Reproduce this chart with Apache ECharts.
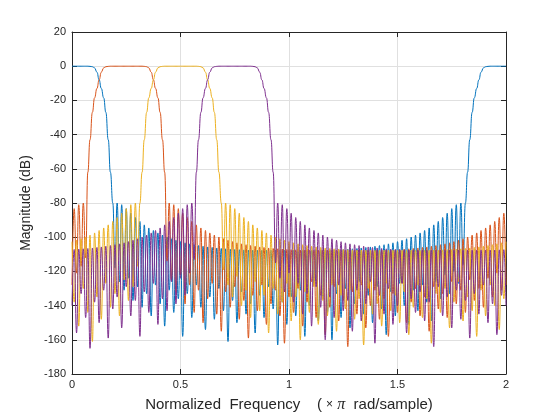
<!DOCTYPE html>
<html><head><meta charset="utf-8">
<script src="https://cdn.jsdelivr.net/npm/echarts@6/dist/echarts.min.js"></script>
<style>html,body{margin:0;padding:0;background:#fff}#c{width:560px;height:420px}</style>
</head><body><div id="c"></div>
<script>
const freq = [0,0.010,0.021,0.031,0.042,0.052,0.063,0.073,0.083,0.094,
0.104,0.115,0.125,0.135,0.146,0.156,0.167,0.177,0.188,0.198,
0.208,0.219,0.229,0.240,0.250,0.260,0.271,0.281,0.292,0.302,
0.313,0.323,0.333,0.344,0.354,0.365,0.375,0.385,0.396,0.406,
0.417,0.427,0.438,0.448,0.458,0.469,0.479,0.490,0.500,0.510,
0.521,0.531,0.542,0.552,0.563,0.573,0.583,0.594,0.604,0.615,
0.625,0.635,0.646,0.656,0.667,0.677,0.688,0.698,0.708,0.719,
0.729,0.740,0.750,0.760,0.771,0.781,0.792,0.802,0.813,0.823,
0.833,0.844,0.854,0.865,0.875,0.885,0.896,0.906,0.917,0.927,
0.938,0.948,0.958,0.969,0.979,0.990,1.000,1.010,1.021,1.031,
1.042,1.052,1.063,1.073,1.083,1.094,1.104,1.115,1.125,1.135,
1.146,1.156,1.167,1.177,1.188,1.198,1.208,1.219,1.229,1.240,
1.250,1.260,1.271,1.281,1.292,1.302,1.313,1.323,1.333,1.344,
1.354,1.365,1.375,1.385,1.396,1.406,1.417,1.427,1.438,1.448,
1.458,1.469,1.479,1.490,1.500,1.510,1.521,1.531,1.542,1.552,
1.563,1.573,1.583,1.594,1.604,1.615,1.625,1.635,1.646,1.656,
1.667,1.677,1.688,1.698,1.708,1.719,1.729,1.740,1.750,1.760,
1.771,1.781,1.792,1.802,1.813,1.823,1.833,1.844,1.854,1.865,
1.875,1.885,1.896,1.906,1.917,1.927,1.938,1.948,1.958,1.969,
1.979,1.990,2.000];

const magBlue = [0,0,0,0,0,0,0,0,-0.1,-0.3,
-1,-3.5,-8,-13,-18.5,-27,-43,-62,-80,-118,
-80,-126,-81,-131,-83.3,-124,-86,-137,-88.5,-129,
-90.8,-141,-92.8,-133,-94.6,-146,-96.1,-128,-97.5,-139,
-98.8,-152,-99.9,-131,-100.9,-144,-101.8,-136,-102.6,-158,
-103.3,-133,-103.9,-147,-104.4,-128,-104.9,-141,-105.3,-154,
-105.7,-135,-106,-148,-106.3,-130,-106.6,-143,-106.8,-161,
-107,-137,-107.2,-150,-107.3,-132,-107.4,-145,-107.5,-139,
-107.5,-156,-107.6,-134,-107.6,-147,-107.6,-129,-107.6,-142,
-107.6,-163,-107.6,-138,-107.6,-151,-107.6,-135,-107.6,-146,
-107.6,-131,-107.6,-158,-107.6,-140,-107.6,-127,-107.6,-149,
-107.6,-136,-107.5,-144,-107.5,-160,-107.4,-133,-107.3,-147,
-107.2,-130,-107,-153,-106.8,-139,-106.6,-126,-106.3,-145,
-106,-134,-105.7,-150,-105.3,-129,-104.9,-142,-104.4,-157,
-103.9,-132,-103.3,-146,-102.6,-127,-101.8,-140,-100.9,-151,
-99.9,-131,-98.8,-143,-97.5,-128,-96.1,-138,-94.6,-149,
-92.8,-126,-90.8,-136,-88.5,-122,-86,-133,-83.3,-120,
-81,-127,-80,-116,-80,-62,-43,-27,-18.5,-13,
-8,-3.5,-1,-0.3,-0.1,0,0,0,0,0,
0,0,0];

const magOrange = [-128,-83.3,-121,-81,-117,-80,-112,-62,-43,-27,
-18.5,-13,-8,-3.5,-1,-0.3,-0.1,0,0,0,
0,0,0,0,0,0,0,0,0,0,
0,0,-0.1,-0.3,-1,-3.5,-8,-13,-18.5,-27,
-43,-62,-114,-80,-125,-81,-133,-83.3,-122,-86,
-139,-88.5,-128,-90.8,-144,-92.8,-131,-94.6,-150,-96.1,
-136,-97.5,-127,-98.8,-145,-99.9,-155,-100.9,-132,-101.8,
-141,-102.6,-129,-103.3,-148,-103.9,-137,-104.4,-159,-104.9,
-134,-105.3,-143,-105.7,-128,-106,-151,-106.3,-139,-106.6,
-131,-106.8,-146,-107,-162,-107.2,-135,-107.3,-144,-107.4,
-130,-107.5,-152,-107.5,-138,-107.6,-126,-107.6,-147,-107.6,
-134,-107.6,-157,-107.6,-141,-107.6,-129,-107.6,-149,-107.6,
-137,-107.6,-164,-107.6,-132,-107.6,-145,-107.6,-128,-107.6,
-153,-107.6,-140,-107.6,-131,-107.6,-148,-107.5,-136,-107.5,
-158,-107.4,-133,-107.3,-144,-107.2,-127,-107,-150,-106.8,
-138,-106.6,-130,-106.3,-146,-106,-135,-105.7,-155,-105.3,
-129,-104.9,-142,-104.4,-133,-103.9,-147,-103.3,-126,-102.6,
-139,-101.8,-131,-100.9,-144,-99.9,-125,-98.8,-137,-97.5,
-130,-96.1,-141,-94.6,-124,-92.8,-135,-90.8,-121,-88.5,
-131,-86,-128];

const magYellow = [-102.6,-138,-101.8,-152,-100.9,-130,-99.9,-144,-98.8,-161,
-97.5,-135,-96.1,-148,-94.6,-127,-92.8,-141,-90.8,-133,
-88.5,-146,-86,-125,-83.3,-137,-81,-129,-80,-117,
-80,-62,-43,-27,-18.5,-13,-8,-3.5,-1,-0.3,
-0.1,0,0,0,0,0,0,0,0,0,
0,0,0,0,0,0,-0.1,-0.3,-1,-3.5,
-8,-13,-18.5,-27,-43,-62,-80,-119,-80,-128,
-81,-135,-83.3,-123,-86,-140,-88.5,-131,-90.8,-147,
-92.8,-126,-94.6,-143,-96.1,-134,-97.5,-156,-98.8,-130,
-99.9,-145,-100.9,-138,-101.8,-127,-102.6,-149,-103.3,-135,
-103.9,-160,-104.4,-132,-104.9,-144,-105.3,-129,-105.7,-151,
-106,-137,-106.3,-146,-106.6,-128,-106.8,-155,-107,-134,
-107.2,-142,-107.3,-131,-107.4,-148,-107.5,-136,-107.5,-163,
-107.6,-130,-107.6,-145,-107.6,-139,-107.6,-152,-107.6,-127,
-107.6,-143,-107.6,-134,-107.6,-150,-107.6,-132,-107.6,-157,
-107.6,-141,-107.6,-128,-107.6,-147,-107.6,-136,-107.6,-162,
-107.5,-133,-107.5,-144,-107.4,-130,-107.3,-153,-107.2,-138,
-107,-126,-106.8,-149,-106.6,-135,-106.3,-143,-106,-158,
-105.7,-131,-105.3,-146,-104.9,-128,-104.4,-140,-103.9,-154,
-103.3,-136,-102.6];

const magPurple = [-140,-107.2,-156,-107,-133,-106.8,-147,-106.6,-165,-106.3,
-138,-106,-150,-105.7,-131,-105.3,-159,-104.9,-142,-104.4,
-135,-103.9,-153,-103.3,-129,-102.6,-146,-101.8,-137,-100.9,
-158,-99.9,-132,-98.8,-144,-97.5,-127,-96.1,-151,-94.6,
-136,-92.8,-143,-90.8,-126,-88.5,-139,-86,-124,-83.3,
-134,-81,-121,-80,-113,-62,-43,-27,-18.5,-13,
-8,-3.5,-1,-0.3,-0.1,0,0,0,0,0,
0,0,0,0,0,0,0,0,0,0,
-0.1,-0.3,-1,-3.5,-8,-13,-18.5,-27,-43,-62,
-115,-80,-124,-81,-132,-83.3,-121,-86,-138,-88.5,
-127,-90.8,-145,-92.8,-133,-94.6,-152,-96.1,-129,-97.5,
-141,-98.8,-160,-99.9,-135,-100.9,-147,-101.8,-128,-102.6,
-143,-103.3,-137,-103.9,-155,-104.4,-131,-104.9,-149,-105.3,
-139,-105.7,-126,-106,-162,-106.3,-134,-106.6,-145,-106.8,
-130,-107,-151,-107.2,-140,-107.3,-127,-107.4,-156,-107.5,
-136,-107.5,-144,-107.6,-132,-107.6,-149,-107.6,-138,-107.6,
-164,-107.6,-129,-107.6,-146,-107.6,-135,-107.6,-153,-107.6,
-131,-107.6,-148,-107.6,-137,-107.6,-159,-107.6,-133,-107.6,
-145,-107.6,-128,-107.6,-150,-107.5,-139,-107.5,-157,-107.4,
-134,-107.3,-140];

const xTicks = [0, 0.5, 1, 1.5, 2];
const yTicks = [-180, -160, -140, -120, -100, -80, -60, -40, -20, 0, 20];
const colors = ['#0072BD', '#D95319', '#EDB120', '#7E2F8E'];
const seriesList = [magBlue, magOrange, magYellow, magPurple];

const axisCol = '#262626';
const chart = echarts.init(document.getElementById('c'), null, {renderer: 'canvas'});
function pairs(arr) { return freq.map((f, i) => [f, arr[i]]); }

chart.setOption({
  animation: false,
  backgroundColor: '#ffffff',
  grid: {left: 72, right: 54, top: 32, bottom: 46, containLabel: false},
  xAxis: [{
    type: 'value', min: xTicks[0], max: xTicks[xTicks.length - 1], interval: 0.5,
    position: 'bottom',
    name: '{a|Normalized  Frequency    ( }{x|×}{a| }{p|π}{a|  rad/sample)}',
    nameLocation: 'middle', nameGap: 23,
    nameTextStyle: {rich: {a: {fontFamily: 'Liberation Sans, Arial', fontSize: 15, color: axisCol},
                           x: {fontFamily: 'Liberation Sans, Arial', fontSize: 12, color: axisCol},
                           p: {fontFamily: 'Liberation Serif, Times New Roman', fontStyle: 'italic', fontSize: 16, color: axisCol}}},
    axisLine: {show: true, onZero: false, lineStyle: {color: axisCol, width: 1}},
    axisTick: {show: true, inside: true, length: 5, lineStyle: {color: axisCol}},
    axisLabel: {color: axisCol, fontFamily: 'Liberation Sans, Arial', fontSize: 11, margin: 5,
                formatter: v => String(v)},
    splitLine: {show: true, lineStyle: {color: '#e0e0e0', width: 1}}
  }, {
    type: 'value', min: 0, max: 2, interval: 0.5, position: 'top',
    axisLine: {show: true, onZero: false, lineStyle: {color: axisCol, width: 1}},
    axisTick: {show: true, inside: true, length: 5, lineStyle: {color: axisCol}},
    axisLabel: {show: false}, splitLine: {show: false}
  }],
  yAxis: [{
    type: 'value', min: yTicks[0], max: yTicks[yTicks.length - 1], interval: 20,
    position: 'left',
    name: 'Magnitude (dB)', nameLocation: 'middle', nameGap: 32,
    nameTextStyle: {fontFamily: 'Liberation Sans, Arial', fontSize: 14, color: axisCol},
    axisLine: {show: true, onZero: false, lineStyle: {color: axisCol, width: 1}},
    axisTick: {show: true, inside: true, length: 5, lineStyle: {color: axisCol}},
    axisLabel: {color: axisCol, fontFamily: 'Liberation Sans, Arial', fontSize: 11, margin: 6},
    splitLine: {show: true, lineStyle: {color: '#e0e0e0', width: 1}}
  }, {
    type: 'value', min: -180, max: 20, interval: 20, position: 'right',
    axisLine: {show: true, onZero: false, lineStyle: {color: axisCol, width: 1}},
    axisTick: {show: true, inside: true, length: 5, lineStyle: {color: axisCol}},
    axisLabel: {show: false}, splitLine: {show: false}
  }],
  series: seriesList.map((arr, k) => ({
    type: 'line', data: pairs(arr), xAxisIndex: 0, yAxisIndex: 0,
    showSymbol: false, symbol: 'none', smooth: 0.5, smoothMonotone: 'x',
    lineStyle: {color: colors[k], width: 1}, itemStyle: {color: colors[k]},
    clip: true, z: 2 + k
  }))
});
</script></body></html>
